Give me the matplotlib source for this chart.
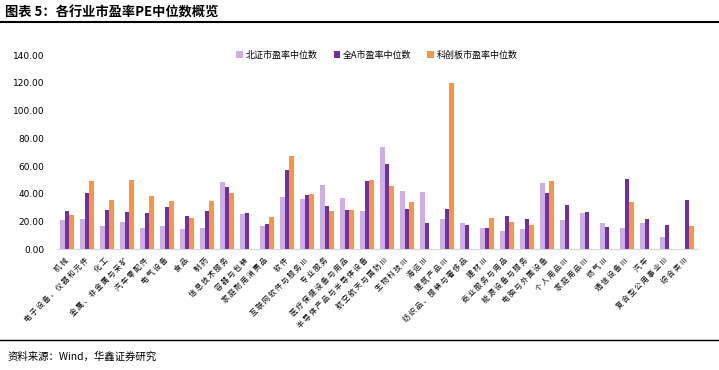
import matplotlib.pyplot as plt
import numpy as np

plt.rcParams['font.family'] = ['Noto Sans CJK SC', 'DejaVu Sans']

categories = ['机械', '电子设备、仪器和元件', '化工', '金属、非金属与采矿', '汽车零配件',
              '电气设备', '食品', '制药', '信息技术服务', '容器与包装', '家庭耐用消费品',
              '软件', '互联网软件与服务Ⅲ', '专业服务', '医疗保健设备与用品',
              '半导体产品与半导体设备', '航空航天与国防Ⅲ', '生物科技Ⅲ', '海运Ⅲ',
              '建筑产品Ⅲ', '纺织品、服装与奢侈品', '建材Ⅲ', '商业服务与用品',
              '能源设备与服务', '电脑与外围设备', '个人用品Ⅲ', '家庭用品Ⅲ', '燃气Ⅲ',
              '通信设备Ⅲ', '汽车', '复合型公用事业Ⅲ', '综合类Ⅲ']

# 北证 / 全A / 科创板 median PE (nan = no value)
bj = [21.1, 22.1, 16.8, 19.7, 15.1, 16.8, 14.4, 15.4, 48.5, 25.4, 16.8,
      37.7, 36.3, 46.3, 37.0, 27.4, 73.7, 42.0, 41.5, 21.6, 19.0, 15.4,
      13.0, 14.6, 47.5, 20.9, 26.2, 19.0, 15.6, 19.2, 8.6, np.nan]
qa = [27.9, 40.3, 28.3, 26.9, 26.2, 30.3, 24.0, 27.6, 44.9, 25.9, 18.5,
      56.9, 39.1, 31.5, 28.6, 49.2, 61.5, 29.1, 19.0, 28.8, 17.8, 15.4,
      23.8, 21.6, 40.6, 31.9, 26.9, 15.8, 50.7, 21.6, 17.8, 35.5]
kc = [25.0, 49.2, 35.5, 49.9, 38.2, 34.8, 22.6, 35.1, 40.6, np.nan, 23.5,
      67.0, 39.9, 27.9, 28.6, 50.2, 45.6, 34.1, np.nan, 119.6, np.nan, 22.6,
      19.7, 17.3, 49.2, np.nan, np.nan, np.nan, 34.1, np.nan, np.nan, 16.8]

series_names = ['北证市盈率中位数', '全A市盈率中位数', '科创板市盈率中位数']
colors = ['#CDAFE6', '#7030A0', '#F79646']

fig = plt.figure(figsize=(7.19, 3.70), dpi=100)
ax = fig.add_axes([0.0793, 0.326, 0.890, 0.525])

x = np.arange(len(categories))
w = 0.22
for i, (vals, name, col) in enumerate(zip([bj, qa, kc], series_names, colors)):
    ax.bar(x + (i - 1) * w, vals, width=w, color=col, label=name)

ax.set_xlim(-0.5, len(categories) - 0.5)
ax.set_ylim(0, 140)
ax.set_yticks(np.arange(0, 141, 20))
ax.set_yticklabels([f'{v:.2f}' for v in range(0, 141, 20)], fontsize=6.5,
                   family='DejaVu Sans')
ax.set_xticks(x)
# thin space between characters, the source labels are loosely spaced
spaced = ['\u2009'.join(c) for c in categories]
ax.set_xticklabels(spaced, rotation=45, ha='right', va='center',
                   rotation_mode='anchor', fontsize=5.3)
ax.tick_params(axis='both', length=0)
ax.tick_params(axis='y', pad=9)
ax.tick_params(axis='x', pad=7)
for s in ['top', 'right', 'left']:
    ax.spines[s].set_visible(False)
ax.spines['bottom'].set_color('#D9D9D9')

ax.legend(loc='center', bbox_to_anchor=(0.5, 1.0), ncol=3, frameon=False,
          fontsize=6.5, handlelength=0.7, handleheight=0.7, handletextpad=0.3,
          columnspacing=1.8)

# header and footer
fig.text(0.007, 0.965, '图表 5：各行业市盈率PE中位数概览', fontsize=9.5,
         fontweight='bold', va='center')
fig.add_artist(plt.Line2D([0, 1], [0.94, 0.94], color='black', lw=1.5))
fig.add_artist(plt.Line2D([0, 1], [0.081, 0.081], color='black', lw=1.0))
fig.text(0.011, 0.035, '资料来源：Wind，华鑫证券研究', fontsize=7.5, va='center')

fig.savefig('out.png', dpi=100)
